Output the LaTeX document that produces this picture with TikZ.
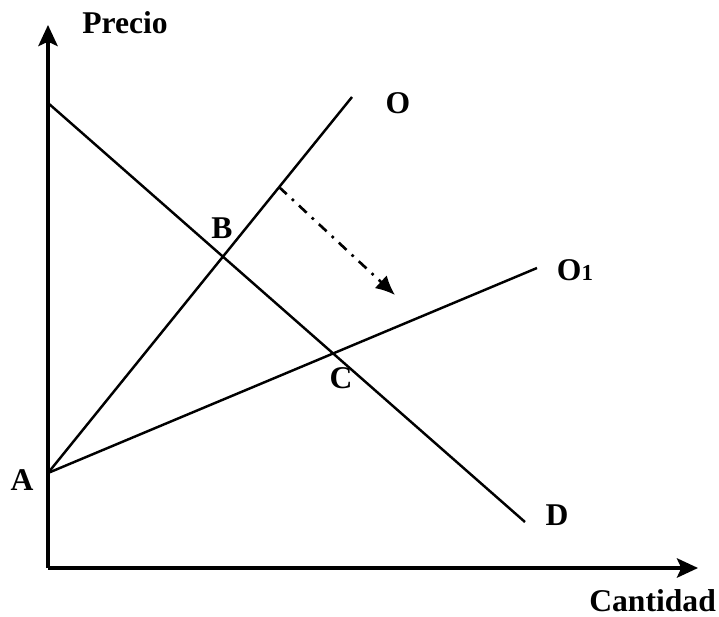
\documentclass[tikz,border=0pt]{standalone}
\usepackage{fontspec}
\setmainfont{Liberation Serif}
\usetikzlibrary{arrows.meta}
\tikzset{
  axis/.style={line width=2pt, -{Stealth[length=12pt,width=11pt,inset=2.5pt]}},
  curve/.style={line width=1.4pt},
  shiftarrow/.style={line width=1.5pt, dash pattern=on 6pt off 4pt on 1.5pt off 4pt, -{Latex[length=11pt,width=10pt]}},
  lbl/.style={font=\fontsize{18}{21}\selectfont\bfseries}
}
\begin{document}
\begin{tikzpicture}
    \useasboundingbox (0,0) rectangle (14.38,12.32);

    % Axes
    \coordinate (orig) at (0.96,0.96);
    \coordinate (ytip) at (0.96,11.82);
    \coordinate (xtip) at (13.96,0.96);
    \draw[axis] (orig) -- (ytip);
    \draw[axis] (orig) -- (xtip);
    \node[lbl] (precio) at (2.5,11.86) {Precio};
    \node[lbl, anchor=east, inner sep=1pt] (cantidad) at (14.36,0.3) {Cantidad};

    % Supply curves O and O1 from A
    \coordinate (A) at (0.96,2.86);
    \coordinate (Otop) at (7.04,10.38);
    \coordinate (O1end) at (10.74,6.96);
    \draw[curve] (A) -- (Otop);
    \draw[curve] (A) -- (O1end);
    \node[lbl] (labA) at (0.44,2.72) {A};
    \node[lbl] (labO) at (7.96,10.26) {O};
    \node[lbl] (labO1) at (11.5,6.92) {O{\fontsize{13}{15}\selectfont 1}};

    % Demand curve D
    \coordinate (Dtop) at (0.96,10.26);
    \coordinate (Dend) at (10.50,1.88);
    \draw[curve] (Dtop) -- (Dend);
    \node[lbl] (labD) at (11.14,2.02) {D};

    % Equilibria
    \node[lbl] (labB) at (4.44,7.76) {B};
    \node[lbl] (labC) at (6.82,4.76) {C};

    % Shift of supply
    \coordinate (s0) at (5.58,8.58);
    \coordinate (s1) at (7.90,6.42);
    \draw[shiftarrow] (s0) -- (s1);
\end{tikzpicture}
\end{document}
